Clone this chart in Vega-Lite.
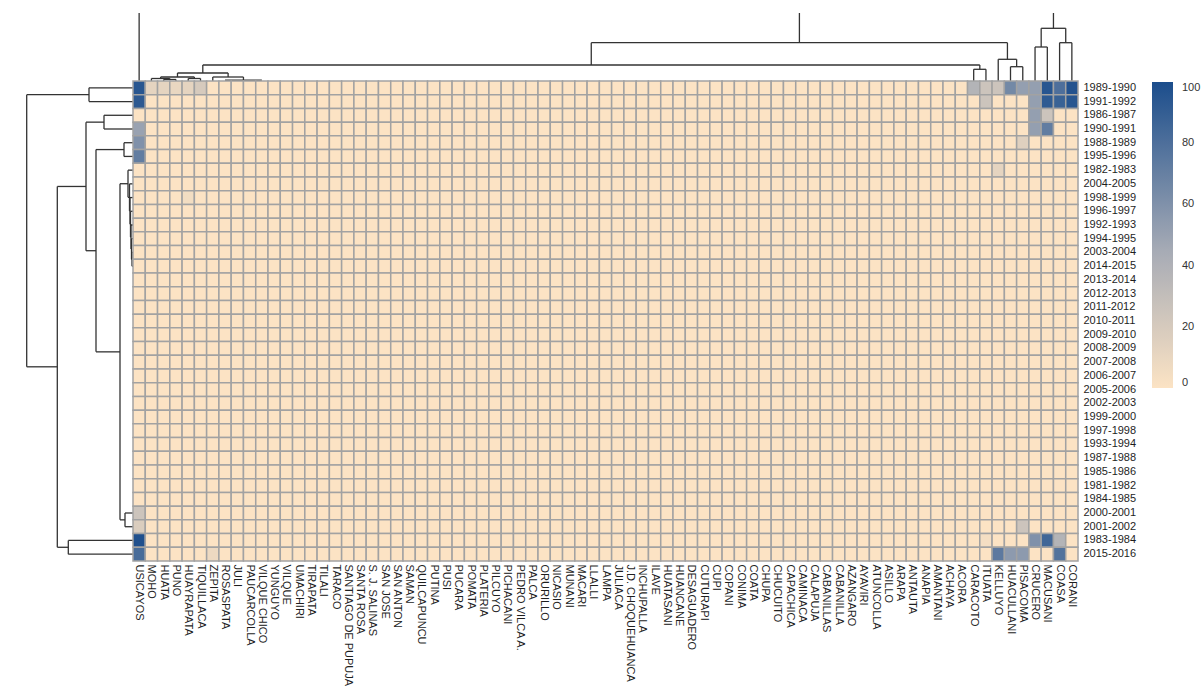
{
  "$schema": "https://vega.github.io/schema/vega-lite/v6.json",
  "padding": {"left": 5, "top": 5, "right": 0, "bottom": 0},
  "columns": 2,
  "spacing": 0,
  "align": "each",
  "bounds": "flush",
  "config": {"view": {"stroke": null}, "font": "Liberation Sans"},
  "resolve": {
    "scale": {"x": "independent", "y": "independent", "color": "independent"},
    "legend": {"color": "independent"}
  },
  "datasets": {
    "years": [
      {"n": 1, "year": "1989-1990"}, {"n": 2, "year": "1991-1992"}, {"n": 3, "year": "1986-1987"},
      {"n": 4, "year": "1990-1991"}, {"n": 5, "year": "1988-1989"}, {"n": 6, "year": "1995-1996"},
      {"n": 7, "year": "1982-1983"}, {"n": 8, "year": "2004-2005"}, {"n": 9, "year": "1998-1999"},
      {"n": 10, "year": "1996-1997"}, {"n": 11, "year": "1992-1993"}, {"n": 12, "year": "1994-1995"},
      {"n": 13, "year": "2003-2004"}, {"n": 14, "year": "2014-2015"}, {"n": 15, "year": "2013-2014"},
      {"n": 16, "year": "2012-2013"}, {"n": 17, "year": "2011-2012"}, {"n": 18, "year": "2010-2011"},
      {"n": 19, "year": "2009-2010"}, {"n": 20, "year": "2008-2009"}, {"n": 21, "year": "2007-2008"},
      {"n": 22, "year": "2006-2007"}, {"n": 23, "year": "2005-2006"}, {"n": 24, "year": "2002-2003"},
      {"n": 25, "year": "1999-2000"}, {"n": 26, "year": "1997-1998"}, {"n": 27, "year": "1993-1994"},
      {"n": 28, "year": "1987-1988"}, {"n": 29, "year": "1985-1986"}, {"n": 30, "year": "1981-1982"},
      {"n": 31, "year": "1984-1985"}, {"n": 32, "year": "2000-2001"}, {"n": 33, "year": "2001-2002"},
      {"n": 34, "year": "1983-1984"}, {"n": 35, "year": "2015-2016"}
    ],
    "cols": [
      {"c": "USICAYOS", "v": [95,93,0,50,60, 72,0,0,0,0, 0,0,0,0,0, 0,0,0,0,0, 0,0,0,0,0, 0,0,0,0,0, 0,25,18,98,82]},
      {"c": "MOHO", "v": [12,0,0,0,0, 0,0,0,0,0, 0,0,0,0,0, 0,0,0,0,0, 0,0,0,0,0, 0,0,0,0,0, 0,0,0,0,0]},
      {"c": "HUATA", "v": [12,0,0,0,0, 0,0,0,0,0, 0,0,0,0,0, 0,0,0,0,0, 0,0,0,0,0, 0,0,0,0,0, 0,0,0,0,0]},
      {"c": "PUNO", "v": [10,0,0,0,0, 0,0,0,0,0, 0,0,0,0,0, 0,0,0,0,0, 0,0,0,0,0, 0,0,0,0,0, 0,0,0,0,0]},
      {"c": "HUAYRAPATA", "v": [12,0,0,0,0, 0,0,0,5,0, 0,0,0,0,0, 0,0,0,0,0, 0,0,0,0,0, 0,0,0,0,0, 0,0,0,0,0]},
      {"c": "TIQUILLACA", "v": [20,0,0,0,0, 0,0,0,0,0, 0,0,0,0,0, 0,0,0,0,0, 0,0,0,0,0, 0,0,0,0,0, 0,0,0,0,0]},
      {"c": "ZEPITA", "v": [0,0,0,0,0, 0,0,0,0,0, 0,0,0,0,0, 0,0,0,0,0, 0,0,0,0,0, 0,0,0,0,0, 0,0,0,0,8]},
      {"c": "ROSASPATA", "v": [0,0,0,0,0, 0,0,0,0,0, 0,0,0,0,0, 0,0,0,0,0, 0,0,0,0,0, 0,0,0,0,0, 0,0,0,0,0]},
      {"c": "JULI", "v": [0,0,0,0,0, 0,0,0,0,0, 0,0,0,0,0, 0,0,0,0,0, 0,0,0,0,0, 0,0,0,0,0, 0,0,0,0,0]},
      {"c": "PAUCARCOLLA", "v": [0,0,0,0,0, 0,0,0,0,0, 0,0,0,0,0, 0,0,0,0,0, 0,0,0,0,0, 0,0,0,0,0, 0,0,0,0,0]},
      {"c": "VILQUE CHICO", "v": [0,0,0,0,0, 0,0,0,0,0, 0,0,0,0,0, 0,0,0,0,0, 0,0,0,0,0, 0,0,0,0,0, 0,0,0,0,0]},
      {"c": "YUNGUYO", "v": [0,0,0,0,0, 0,0,0,0,0, 0,0,0,0,0, 0,0,0,0,0, 0,0,0,0,0, 0,0,0,0,0, 0,0,0,0,0]},
      {"c": "VILQUE", "v": [0,0,0,0,0, 0,0,0,0,0, 0,0,0,0,0, 0,0,0,0,0, 0,0,0,0,0, 0,0,0,0,0, 0,0,0,0,0]},
      {"c": "UMACHIRI", "v": [0,0,0,0,0, 0,0,0,0,0, 0,0,0,0,0, 0,0,0,0,0, 0,0,0,0,0, 0,0,0,0,0, 0,0,0,0,0]},
      {"c": "TIRAPATA", "v": [0,0,0,0,0, 0,0,0,0,0, 0,0,0,0,0, 0,0,0,0,0, 0,0,0,0,0, 0,0,0,0,0, 0,0,0,0,0]},
      {"c": "TILALI", "v": [0,0,0,0,0, 0,0,0,0,0, 0,0,0,0,0, 0,0,0,0,0, 0,0,0,0,0, 0,0,0,0,0, 0,0,0,0,0]},
      {"c": "TARACO", "v": [0,0,0,0,0, 0,0,0,0,0, 0,0,0,0,0, 0,0,0,0,0, 0,0,0,0,0, 0,0,0,0,0, 0,0,0,0,0]},
      {"c": "SANTIAGO DE PUPUJA", "v": [0,0,0,0,0, 0,0,0,0,0, 0,0,0,0,0, 0,0,0,0,0, 0,0,0,0,0, 0,0,0,0,0, 0,0,0,0,0]},
      {"c": "SANTA ROSA", "v": [0,0,0,0,0, 0,0,0,0,0, 0,0,0,0,0, 0,0,0,0,0, 0,0,0,0,0, 0,0,0,0,0, 0,0,0,0,0]},
      {"c": "S. J. SALINAS", "v": [0,0,0,0,0, 0,0,0,0,0, 0,0,0,0,0, 0,0,0,0,0, 0,0,0,0,0, 0,0,0,0,0, 0,0,0,0,0]},
      {"c": "SAN JOSE", "v": [0,0,0,0,0, 0,0,0,0,0, 0,0,0,0,0, 0,0,0,0,0, 0,0,0,0,0, 0,0,0,0,0, 0,0,0,0,0]},
      {"c": "SAN ANTON", "v": [0,0,0,0,0, 0,0,0,0,0, 0,0,0,0,0, 0,0,0,0,0, 0,0,0,0,0, 0,0,0,0,0, 0,0,0,0,0]},
      {"c": "SAMAN", "v": [0,0,0,0,0, 0,0,0,0,0, 0,0,0,0,0, 0,0,0,0,0, 0,0,0,0,0, 0,0,0,0,0, 0,0,0,0,0]},
      {"c": "QUILCAPUNCU", "v": [0,0,0,0,0, 0,0,0,0,0, 0,0,0,0,0, 0,0,0,0,0, 0,0,0,0,0, 0,0,0,0,0, 0,0,0,0,0]},
      {"c": "PUTINA", "v": [0,0,0,0,0, 0,0,0,0,0, 0,0,0,0,0, 0,0,0,0,0, 0,0,0,0,0, 0,0,0,0,0, 0,0,0,0,0]},
      {"c": "PUSI", "v": [0,0,0,0,0, 0,0,0,0,0, 0,0,0,0,0, 0,0,0,0,0, 0,0,0,0,0, 0,0,0,0,0, 0,0,0,0,0]},
      {"c": "PUCARA", "v": [0,0,0,0,0, 0,0,0,0,0, 0,0,0,0,0, 0,0,0,0,0, 0,0,0,0,0, 0,0,0,0,0, 0,0,0,0,0]},
      {"c": "POMATA", "v": [0,0,0,0,0, 0,0,0,0,0, 0,0,0,0,0, 0,0,0,0,0, 0,0,0,0,0, 0,0,0,0,0, 0,0,0,0,0]},
      {"c": "PLATERIA", "v": [0,0,0,0,0, 0,0,0,0,0, 0,0,0,0,0, 0,0,0,0,0, 0,0,0,0,0, 0,0,0,0,0, 0,0,0,0,0]},
      {"c": "PILCUYO", "v": [0,0,0,0,0, 0,0,0,0,0, 0,0,0,0,0, 0,0,0,0,0, 0,0,0,0,0, 0,0,0,0,0, 0,0,0,0,0]},
      {"c": "PICHACANI", "v": [0,0,0,0,0, 0,0,0,0,0, 0,0,0,0,0, 0,0,0,0,0, 0,0,0,0,0, 0,0,0,0,0, 0,0,0,0,0]},
      {"c": "PEDRO VILCA A.", "v": [0,0,0,0,0, 0,0,0,0,0, 0,0,0,0,0, 0,0,0,0,0, 0,0,0,0,0, 0,0,0,0,0, 0,0,0,0,0]},
      {"c": "PALCA", "v": [0,0,0,0,0, 0,0,0,0,0, 0,0,0,0,0, 0,0,0,0,0, 0,0,0,0,0, 0,0,0,0,0, 0,0,0,0,0]},
      {"c": "ORURILLO", "v": [0,0,0,0,0, 0,0,0,0,0, 0,0,0,0,0, 0,0,0,0,0, 0,0,0,0,0, 0,0,0,0,0, 0,0,0,0,0]},
      {"c": "NICASIO", "v": [0,0,0,0,0, 0,0,0,0,0, 0,0,0,0,0, 0,0,0,0,0, 0,0,0,0,0, 0,0,0,0,0, 0,0,0,0,0]},
      {"c": "MUNANI", "v": [0,0,0,0,0, 0,0,0,0,0, 0,0,0,0,0, 0,0,0,0,0, 0,0,0,0,0, 0,0,0,0,0, 0,0,0,0,0]},
      {"c": "MACARI", "v": [0,0,0,0,0, 0,0,0,0,0, 0,0,0,0,0, 0,0,0,0,0, 0,0,0,0,0, 0,0,0,0,0, 0,0,0,0,0]},
      {"c": "LLALLI", "v": [0,0,0,0,0, 0,0,0,0,0, 0,0,0,0,0, 0,0,0,0,0, 0,0,0,0,0, 0,0,0,0,0, 0,0,0,0,0]},
      {"c": "LAMPA", "v": [0,0,0,0,0, 0,0,0,0,0, 0,0,0,0,0, 0,0,0,0,0, 0,0,0,0,0, 0,0,0,0,0, 0,0,0,0,0]},
      {"c": "JULIACA", "v": [0,0,0,0,0, 0,0,0,0,0, 0,0,0,0,0, 0,0,0,0,0, 0,0,0,0,0, 0,0,0,0,0, 0,0,0,0,0]},
      {"c": "J.D. CHOQUEHUANCA", "v": [0,0,0,0,0, 0,0,0,0,0, 0,0,0,0,0, 0,0,0,0,0, 0,0,0,0,0, 0,0,0,0,0, 0,0,0,0,0]},
      {"c": "INCHUPALLA", "v": [0,0,0,0,0, 0,0,0,0,0, 0,0,0,0,0, 0,0,0,0,0, 0,0,0,0,0, 0,0,0,0,0, 0,0,0,0,0]},
      {"c": "ILAVE", "v": [0,0,0,0,0, 0,0,0,0,0, 0,0,0,0,0, 0,0,0,0,0, 0,0,0,0,0, 0,0,0,0,0, 0,0,0,0,0]},
      {"c": "HUATASANI", "v": [0,0,0,0,0, 0,0,0,0,0, 0,0,0,0,0, 0,0,0,0,0, 0,0,0,0,0, 0,0,0,0,0, 0,0,0,0,0]},
      {"c": "HUANCANE", "v": [0,0,0,0,0, 0,0,0,0,0, 0,0,0,0,0, 0,0,0,0,0, 0,0,0,0,0, 0,0,0,0,0, 0,0,0,0,0]},
      {"c": "DESAGUADERO", "v": [0,0,0,0,0, 0,0,0,0,0, 0,0,0,0,0, 0,0,0,0,0, 0,0,0,0,0, 0,0,0,0,0, 0,0,0,0,0]},
      {"c": "CUTURAPI", "v": [0,0,0,0,0, 0,0,0,0,0, 0,0,0,0,0, 0,0,0,0,0, 0,0,0,0,0, 0,0,0,0,0, 0,0,0,0,0]},
      {"c": "CUPI", "v": [0,0,0,0,0, 0,0,0,0,0, 0,0,0,0,0, 0,0,0,0,0, 0,0,0,0,0, 0,0,0,0,0, 0,0,0,0,0]},
      {"c": "COPANI", "v": [0,0,0,0,0, 0,0,0,0,0, 0,0,0,0,0, 0,0,0,0,0, 0,0,0,0,0, 0,0,0,0,0, 0,0,0,0,0]},
      {"c": "CONIMA", "v": [0,0,0,0,0, 0,0,0,0,0, 0,0,0,0,0, 0,0,0,0,0, 0,0,0,0,0, 0,0,0,0,0, 0,0,0,0,0]},
      {"c": "COATA", "v": [0,0,0,0,0, 0,0,0,0,0, 0,0,0,0,0, 0,0,0,0,0, 0,0,0,0,0, 0,0,0,0,0, 0,0,0,0,0]},
      {"c": "CHUPA", "v": [0,0,0,0,0, 0,0,0,0,0, 0,0,0,0,0, 0,0,0,0,0, 0,0,0,0,0, 0,0,0,0,0, 0,0,0,0,0]},
      {"c": "CHUCUITO", "v": [0,0,0,0,0, 0,0,0,0,0, 0,0,0,0,0, 0,0,0,0,0, 0,0,0,0,0, 0,0,0,0,0, 0,0,0,0,0]},
      {"c": "CAPACHICA", "v": [0,0,0,0,0, 0,0,0,0,0, 0,0,0,0,0, 0,0,0,0,0, 0,0,0,0,0, 0,0,0,0,0, 0,0,0,0,0]},
      {"c": "CAMINACA", "v": [0,0,0,0,0, 0,0,0,0,0, 0,0,0,0,0, 0,0,0,0,0, 0,0,0,0,0, 0,0,0,0,0, 0,0,0,0,0]},
      {"c": "CALAPUJA", "v": [0,0,0,0,0, 0,0,0,0,0, 0,0,0,0,0, 0,0,0,0,0, 0,0,0,0,0, 0,0,0,0,0, 0,0,0,0,0]},
      {"c": "CABANILLAS", "v": [0,0,0,0,0, 0,0,0,0,0, 0,0,0,0,0, 0,0,0,0,0, 0,0,0,0,0, 0,0,0,0,0, 0,0,0,0,0]},
      {"c": "CABANILLA", "v": [0,0,0,0,0, 0,0,0,0,0, 0,0,0,0,0, 0,0,0,0,0, 0,0,0,0,0, 0,0,0,0,0, 0,0,0,0,0]},
      {"c": "AZANGARO", "v": [0,0,0,0,0, 0,0,0,0,0, 0,0,0,0,0, 0,0,0,0,0, 0,0,0,0,0, 0,0,0,0,0, 0,0,0,0,0]},
      {"c": "AYAVIRI", "v": [0,0,0,0,0, 0,0,0,0,0, 0,0,0,0,0, 0,0,0,0,0, 0,0,0,0,0, 0,0,0,0,0, 0,0,0,0,0]},
      {"c": "ATUNCOLLA", "v": [0,0,0,0,0, 0,0,0,0,0, 0,0,0,0,0, 0,0,0,0,0, 0,0,0,0,0, 0,0,0,0,0, 0,0,0,0,0]},
      {"c": "ASILLO", "v": [0,0,0,0,0, 0,0,0,0,0, 0,0,0,0,0, 0,0,0,0,0, 0,0,0,0,0, 0,0,0,0,0, 0,0,0,0,0]},
      {"c": "ARAPA", "v": [0,0,0,0,0, 0,0,0,0,0, 0,0,0,0,0, 0,0,0,0,0, 0,0,0,0,0, 0,0,0,0,0, 0,0,0,0,0]},
      {"c": "ANTAUTA", "v": [0,0,0,0,0, 0,0,0,0,0, 0,0,0,0,0, 0,0,0,0,0, 0,0,0,0,0, 0,0,0,0,0, 0,0,0,0,0]},
      {"c": "ANAPIA", "v": [0,0,0,0,0, 0,0,0,0,0, 0,0,0,0,0, 0,0,0,0,0, 0,0,0,0,0, 0,0,0,0,0, 0,0,0,0,0]},
      {"c": "AMANTANI", "v": [0,0,0,0,0, 0,0,0,0,0, 0,0,0,0,0, 0,0,0,0,0, 0,0,0,0,0, 0,0,0,0,0, 0,0,0,0,0]},
      {"c": "ACHAYA", "v": [0,0,0,0,0, 0,0,0,0,0, 0,0,0,0,0, 0,0,0,0,0, 0,0,0,0,0, 0,0,0,0,0, 0,0,0,0,0]},
      {"c": "ACORA", "v": [0,0,0,0,0, 0,0,0,0,0, 0,0,0,0,0, 0,0,0,0,0, 0,0,0,0,0, 0,0,0,0,0, 0,0,0,0,0]},
      {"c": "CARACOTO", "v": [38,0,0,0,0, 0,0,0,0,0, 0,0,0,0,0, 0,0,0,0,0, 0,0,0,0,0, 0,0,0,0,0, 0,0,0,0,0]},
      {"c": "ITUATA", "v": [25,25,0,0,0, 0,0,0,0,0, 0,0,0,0,0, 0,0,0,0,0, 0,0,0,0,0, 0,0,0,0,0, 0,0,0,4,0]},
      {"c": "KELLUYO", "v": [25,0,0,0,0, 0,12,0,0,0, 0,0,0,0,0, 0,0,0,0,0, 0,0,0,0,0, 0,0,0,0,0, 0,0,0,0,74]},
      {"c": "HUACULLANI", "v": [65,0,0,0,0, 0,0,0,0,0, 0,0,0,0,0, 0,0,0,0,0, 0,0,0,0,0, 0,0,0,0,0, 0,0,0,0,55]},
      {"c": "PISACOMA", "v": [52,0,0,0,15, 0,0,0,0,0, 0,0,0,0,0, 0,0,0,0,0, 0,0,0,0,0, 0,0,0,0,0, 0,0,25,0,55]},
      {"c": "CRUCERO", "v": [52,52,52,52,0, 0,0,0,0,0, 0,0,0,0,0, 0,0,0,0,0, 0,0,0,0,0, 0,0,0,0,0, 0,0,0,60,0]},
      {"c": "MACUSANI", "v": [95,92,25,72,0, 0,0,0,0,0, 0,0,0,0,0, 0,0,0,0,0, 0,0,0,0,0, 0,0,0,0,0, 0,0,0,85,0]},
      {"c": "COASA", "v": [80,88,0,0,0, 0,0,0,0,0, 0,0,0,0,0, 0,0,0,0,0, 0,0,0,0,0, 0,0,0,0,0, 0,0,0,38,78]},
      {"c": "CORANI", "v": [97,95,0,0,0, 0,0,0,0,0, 0,0,0,0,0, 0,0,0,0,0, 0,0,0,0,0, 0,0,0,0,0, 0,0,0,0,0]}
    ],
    "topdend": [
      {"c": 2.5, "c2": 2.5, "t": 0, "t2": 1.5}, {"c": 3.5, "c2": 3.5, "t": 0, "t2": 1.5}, {"c": 2.5, "c2": 3.5, "t": 1.5, "t2": 1.5},
      {"c": 1.5, "c2": 1.5, "t": 0, "t2": 2.5}, {"c": 3.0, "c2": 3.0, "t": 1.5, "t2": 2.5}, {"c": 1.5, "c2": 3.0, "t": 2.5, "t2": 2.5},
      {"c": 4.5, "c2": 4.5, "t": 0, "t2": 2.5}, {"c": 5.5, "c2": 5.5, "t": 0, "t2": 2.5}, {"c": 4.5, "c2": 5.5, "t": 2.5, "t2": 2.5},
      {"c": 2.25, "c2": 2.25, "t": 2.5, "t2": 4}, {"c": 5.0, "c2": 5.0, "t": 2.5, "t2": 4}, {"c": 2.25, "c2": 5.0, "t": 4, "t2": 4},
      {"c": 7.5, "c2": 10.5, "t": 0.8, "t2": 0.8},
      {"c": 6.5, "c2": 6.5, "t": 0, "t2": 4}, {"c": 9.0, "c2": 9.0, "t": 0.8, "t2": 4}, {"c": 6.5, "c2": 9.0, "t": 4, "t2": 4},
      {"c": 3.625, "c2": 3.625, "t": 4, "t2": 8}, {"c": 7.75, "c2": 7.75, "t": 4, "t2": 8}, {"c": 3.625, "c2": 7.75, "t": 8, "t2": 8},
      {"c": 68.5, "c2": 68.5, "t": 0, "t2": 11.7}, {"c": 69.5, "c2": 69.5, "t": 0, "t2": 11.7}, {"c": 68.5, "c2": 69.5, "t": 11.7, "t2": 11.7},
      {"c": 5.6875, "c2": 5.6875, "t": 8, "t2": 16}, {"c": 69.0, "c2": 69.0, "t": 11.7, "t2": 16}, {"c": 5.6875, "c2": 69.0, "t": 16, "t2": 16},
      {"c": 71.5, "c2": 71.5, "t": 0, "t2": 14.3}, {"c": 72.5, "c2": 72.5, "t": 0, "t2": 14.3}, {"c": 71.5, "c2": 72.5, "t": 14.3, "t2": 14.3},
      {"c": 70.5, "c2": 70.5, "t": 0, "t2": 21.7}, {"c": 72.0, "c2": 72.0, "t": 14.3, "t2": 21.7}, {"c": 70.5, "c2": 72.0, "t": 21.7, "t2": 21.7},
      {"c": 37.34, "c2": 37.34, "t": 16, "t2": 38.3}, {"c": 71.25, "c2": 71.25, "t": 21.7, "t2": 38.3}, {"c": 37.34, "c2": 71.25, "t": 38.3, "t2": 38.3},
      {"c": 54.3, "c2": 54.3, "t": 38.3, "t2": 68},
      {"c": 73.5, "c2": 73.5, "t": 0, "t2": 34}, {"c": 74.5, "c2": 74.5, "t": 0, "t2": 34}, {"c": 73.5, "c2": 74.5, "t": 34, "t2": 34},
      {"c": 75.5, "c2": 75.5, "t": 0, "t2": 38.3}, {"c": 76.5, "c2": 76.5, "t": 0, "t2": 38.3}, {"c": 75.5, "c2": 76.5, "t": 38.3, "t2": 38.3},
      {"c": 74, "c2": 74, "t": 34, "t2": 52.7}, {"c": 76, "c2": 76, "t": 38.3, "t2": 52.7}, {"c": 74, "c2": 76, "t": 52.7, "t2": 52.7},
      {"c": 75, "c2": 75, "t": 52.7, "t2": 68},
      {"c": 0.5, "c2": 0.5, "t": 0, "t2": 68}
    ],
    "leftdend": [
      {"h": 0, "h2": 1, "r": 12.5, "r2": 12.5}, {"h": 0, "h2": 1, "r": 13.5, "r2": 13.5}, {"h": 1, "h2": 1, "r": 12.5, "r2": 13.5},
      {"h": 0, "h2": 1.5, "r": 11.5, "r2": 11.5}, {"h": 1, "h2": 1.5, "r": 13, "r2": 13}, {"h": 1.5, "h2": 1.5, "r": 11.5, "r2": 13},
      {"h": 0, "h2": 2, "r": 10.5, "r2": 10.5}, {"h": 1.5, "h2": 2, "r": 12.25, "r2": 12.25}, {"h": 2, "h2": 2, "r": 10.5, "r2": 12.25},
      {"h": 0, "h2": 2.5, "r": 9.5, "r2": 9.5}, {"h": 2, "h2": 2.5, "r": 11.375, "r2": 11.375}, {"h": 2.5, "h2": 2.5, "r": 9.5, "r2": 11.375},
      {"h": 0, "h2": 3, "r": 8.5, "r2": 8.5}, {"h": 2.5, "h2": 3, "r": 10.44, "r2": 10.44}, {"h": 3, "h2": 3, "r": 8.5, "r2": 10.44},
      {"h": 0, "h2": 3.5, "r": 7.5, "r2": 7.5}, {"h": 3, "h2": 3.5, "r": 9.47, "r2": 9.47}, {"h": 3.5, "h2": 3.5, "r": 7.5, "r2": 9.47},
      {"h": 0, "h2": 5, "r": 6.5, "r2": 6.5}, {"h": 3.5, "h2": 5, "r": 8.48, "r2": 8.48}, {"h": 5, "h2": 5, "r": 6.5, "r2": 8.48},
      {"h": 0, "h2": 8, "r": 31.5, "r2": 31.5}, {"h": 0, "h2": 8, "r": 32.5, "r2": 32.5}, {"h": 8, "h2": 8, "r": 31.5, "r2": 32.5},
      {"h": 5, "h2": 13, "r": 7.49, "r2": 7.49}, {"h": 8, "h2": 13, "r": 32, "r2": 32}, {"h": 13, "h2": 13, "r": 7.49, "r2": 32},
      {"h": 0, "h2": 9, "r": 4.5, "r2": 4.5}, {"h": 0, "h2": 9, "r": 5.5, "r2": 5.5}, {"h": 9, "h2": 9, "r": 4.5, "r2": 5.5},
      {"h": 9, "h2": 37, "r": 5, "r2": 5}, {"h": 13, "h2": 37, "r": 19.75, "r2": 19.75}, {"h": 37, "h2": 37, "r": 5, "r2": 19.75},
      {"h": 0, "h2": 29, "r": 2.5, "r2": 2.5}, {"h": 0, "h2": 29, "r": 3.5, "r2": 3.5}, {"h": 29, "h2": 29, "r": 2.5, "r2": 3.5},
      {"h": 29, "h2": 47, "r": 3, "r2": 3}, {"h": 37, "h2": 47, "r": 12.375, "r2": 12.375}, {"h": 47, "h2": 47, "r": 3, "r2": 12.375},
      {"h": 0, "h2": 64.7, "r": 33.5, "r2": 33.5}, {"h": 0, "h2": 64.7, "r": 34.5, "r2": 34.5}, {"h": 64.7, "h2": 64.7, "r": 33.5, "r2": 34.5},
      {"h": 47, "h2": 75.7, "r": 7.69, "r2": 7.69}, {"h": 64.7, "h2": 75.7, "r": 34, "r2": 34}, {"h": 75.7, "h2": 75.7, "r": 7.69, "r2": 34},
      {"h": 0, "h2": 44, "r": 0.5, "r2": 0.5}, {"h": 0, "h2": 44, "r": 1.5, "r2": 1.5}, {"h": 44, "h2": 44, "r": 0.5, "r2": 1.5},
      {"h": 44, "h2": 106.3, "r": 1, "r2": 1}, {"h": 75.7, "h2": 106.3, "r": 20.84, "r2": 20.84}, {"h": 106.3, "h2": 106.3, "r": 1, "r2": 20.84}
    ]
  },
  "concat": [
    {
      "width": 128,
      "height": 76,
      "data": {"values": []},
      "mark": "point",
      "encoding": {}
    },
    {
      "width": 945,
      "height": 76,
      "data": {"name": "topdend"},
      "mark": {"type": "rule", "stroke": "#333333", "strokeWidth": 1.3},
      "encoding": {
        "x": {"field": "c", "type": "quantitative", "scale": {"domain": [0, 77], "nice": false, "zero": false}, "axis": null},
        "x2": {"field": "c2"},
        "y": {"field": "t", "type": "quantitative", "scale": {"domain": [0, 76], "nice": false, "zero": false}, "axis": null},
        "y2": {"field": "t2"}
      }
    },
    {
      "width": 128,
      "height": 480,
      "data": {"name": "leftdend"},
      "mark": {"type": "rule", "stroke": "#333333", "strokeWidth": 1.3},
      "encoding": {
        "x": {"field": "h", "type": "quantitative", "scale": {"domain": [0, 128], "nice": false, "zero": false, "reverse": true}, "axis": null},
        "x2": {"field": "h2"},
        "y": {"field": "r", "type": "quantitative", "scale": {"domain": [0, 35], "nice": false, "zero": false, "reverse": true}, "axis": null},
        "y2": {"field": "r2"}
      }
    },
    {
      "width": 945,
      "height": 480,
      "data": {"name": "cols"},
      "transform": [
        {"flatten": ["v"]},
        {"window": [{"op": "row_number", "as": "n"}], "groupby": ["c"]},
        {"lookup": "n", "from": {"data": {"name": "years"}, "key": "n", "fields": ["year"]}}
      ],
      "mark": {"type": "rect", "stroke": "#a2a2a2", "strokeWidth": 1.5},
      "encoding": {
        "x": {
          "field": "c", "type": "nominal", "sort": null,
          "scale": {"paddingInner": 0, "paddingOuter": 0},
          "axis": {"orient": "bottom", "title": null, "labelAngle": 90, "ticks": false, "domain": false,
                   "labelPadding": 3, "labelFontSize": 11, "labelColor": "#1e1e1e", "labelFont": "Liberation Sans"}
        },
        "y": {
          "field": "year", "type": "nominal", "sort": {"field": "n", "op": "min", "order": "ascending"},
          "scale": {"paddingInner": 0, "paddingOuter": 0},
          "axis": {"orient": "right", "title": null, "ticks": false, "domain": false,
                   "labelPadding": 5, "labelFontSize": 11, "labelColor": "#1e1e1e", "labelFont": "Liberation Sans"}
        },
        "color": {
          "field": "v", "type": "quantitative",
          "scale": {"domain": [0, 45, 100], "range": ["#fce3c4", "#a6abb5", "#1b4d8c"], "interpolate": "rgb"},
          "legend": {
            "title": null, "orient": "none", "legendX": 1019, "legendY": 1, "direction": "vertical",
            "gradientLength": 306, "gradientThickness": 21, "padding": 0,
            "values": [0, 20, 40, 60, 80, 100], "labelFontSize": 11, "labelColor": "#333333",
            "labelOffset": 9, "labelFont": "Liberation Sans", "gradientStrokeWidth": 0
          }
        }
      }
    }
  ]
}
